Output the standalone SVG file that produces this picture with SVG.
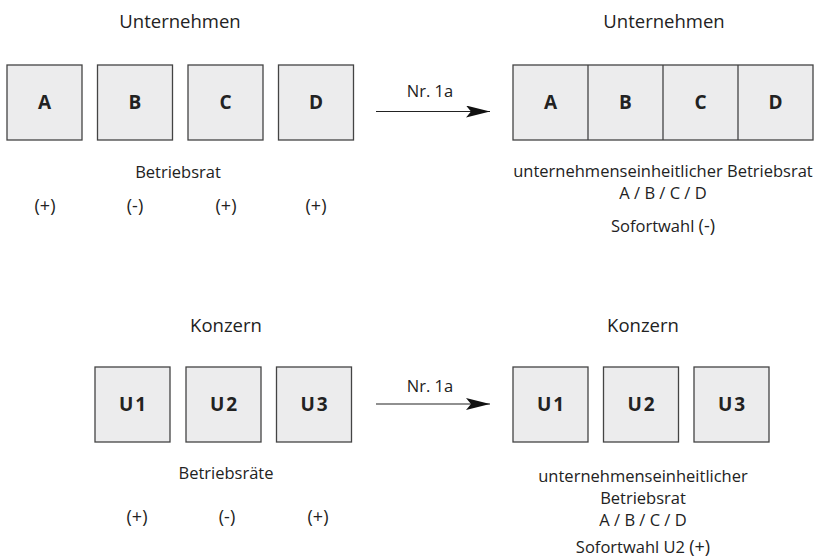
<svg xmlns="http://www.w3.org/2000/svg" width="818" height="559" viewBox="0 0 818 559">
<defs>
<style>
text{font-family:"Open Sans","Liberation Sans",sans-serif;fill:#222;text-anchor:middle}
.t{font-size:18.5px}
.s{font-size:16.5px}
.p{font-size:18px}
.b{font-size:19px;font-weight:bold}
.u{letter-spacing:2px}
.box{fill:#ececed;stroke:#444;stroke-width:1.3}
.d{stroke:#444;stroke-width:1.3}
.c{stroke:#222;stroke-width:1.2;fill:none}
</style>
<marker id="ah" viewBox="0 0 24 12" refX="24" refY="6" markerWidth="24" markerHeight="12" markerUnits="userSpaceOnUse" orient="auto">
<path d="M0,0 L24,6 L0,12 L5,6 Z" fill="#111"/>
</marker>
</defs>
<rect width="818" height="559" fill="#fff"/>
<text class="t" x="180" y="28">Unternehmen</text>
<text class="t" x="664" y="28">Unternehmen</text>
<g id="A"><rect class="box" x="7" y="65" width="75" height="75"/><text class="b" x="44.5" y="109">A</text></g>
<g id="B"><rect class="box" x="97.5" y="65" width="75" height="75"/><text class="b" x="135" y="109">B</text></g>
<g id="C"><rect class="box" x="188" y="65" width="75" height="75"/><text class="b" x="225.5" y="109">C</text></g>
<g id="D"><rect class="box" x="278.5" y="65" width="75" height="75"/><text class="b" x="316" y="109">D</text></g>
<text class="s" x="178" y="178">Betriebsrat</text>
<text class="p" x="45" y="212">(+)</text>
<text class="p" x="135" y="212">(-)</text>
<text class="p" x="226" y="212">(+)</text>
<text class="p" x="316" y="212">(+)</text>
<g id="unt"><rect class="box" x="513" y="65" width="300" height="75"/>
<line class="d" x1="588" y1="65" x2="588" y2="140"/>
<line class="d" x1="663" y1="65" x2="663" y2="140"/>
<line class="d" x1="738" y1="65" x2="738" y2="140"/>
<text class="b" x="550.5" y="109">A</text><text class="b" x="625.5" y="109">B</text><text class="b" x="700.5" y="109">C</text><text class="b" x="775.5" y="109">D</text></g>
<text class="s" x="663" y="177">unternehmenseinheitlicher Betriebsrat</text>
<text class="s" x="663" y="199">A / B / C / D</text>
<text class="s" x="663" y="232">Sofortwahl <tspan class="p">(-)</tspan></text>
<text class="t" x="226" y="332">Konzern</text>
<text class="t" x="643" y="332">Konzern</text>
<g id="U1"><rect class="box" x="95" y="367" width="75" height="75"/><text class="b u" x="133.5" y="411">U1</text></g>
<g id="U2"><rect class="box" x="186" y="367" width="75" height="75"/><text class="b u" x="224.5" y="411">U2</text></g>
<g id="U3"><rect class="box" x="276.5" y="367" width="75" height="75"/><text class="b u" x="315" y="411">U3</text></g>
<text class="s" x="226" y="479">Betriebsräte</text>
<text class="p" x="137" y="523">(+)</text>
<text class="p" x="227" y="523">(-)</text>
<text class="p" x="318" y="523">(+)</text>
<g id="U1r"><rect class="box" x="513" y="367" width="75" height="75"/><text class="b u" x="551.5" y="411">U1</text></g>
<g id="U2r"><rect class="box" x="603.5" y="367" width="75" height="75"/><text class="b u" x="642" y="411">U2</text></g>
<g id="U3r"><rect class="box" x="694" y="367" width="75" height="75"/><text class="b u" x="732.5" y="411">U3</text></g>
<text class="s" x="643" y="482">unternehmenseinheitlicher</text>
<text class="s" x="643" y="504">Betriebsrat</text>
<text class="s" x="643" y="526">A / B / C / D</text>
<text class="s" x="643" y="553">Sofortwahl U2 <tspan class="p">(+)</tspan></text>
<g id="connectors">
<line class="c" x1="376" y1="111.5" x2="490" y2="111.5" marker-end="url(#ah)"/>
<text class="s" x="430" y="97">Nr. 1a</text>
<line class="c" x1="376" y1="404" x2="490" y2="404" marker-end="url(#ah)"/>
<text class="s" x="430" y="392">Nr. 1a</text>
</g>
</svg>
